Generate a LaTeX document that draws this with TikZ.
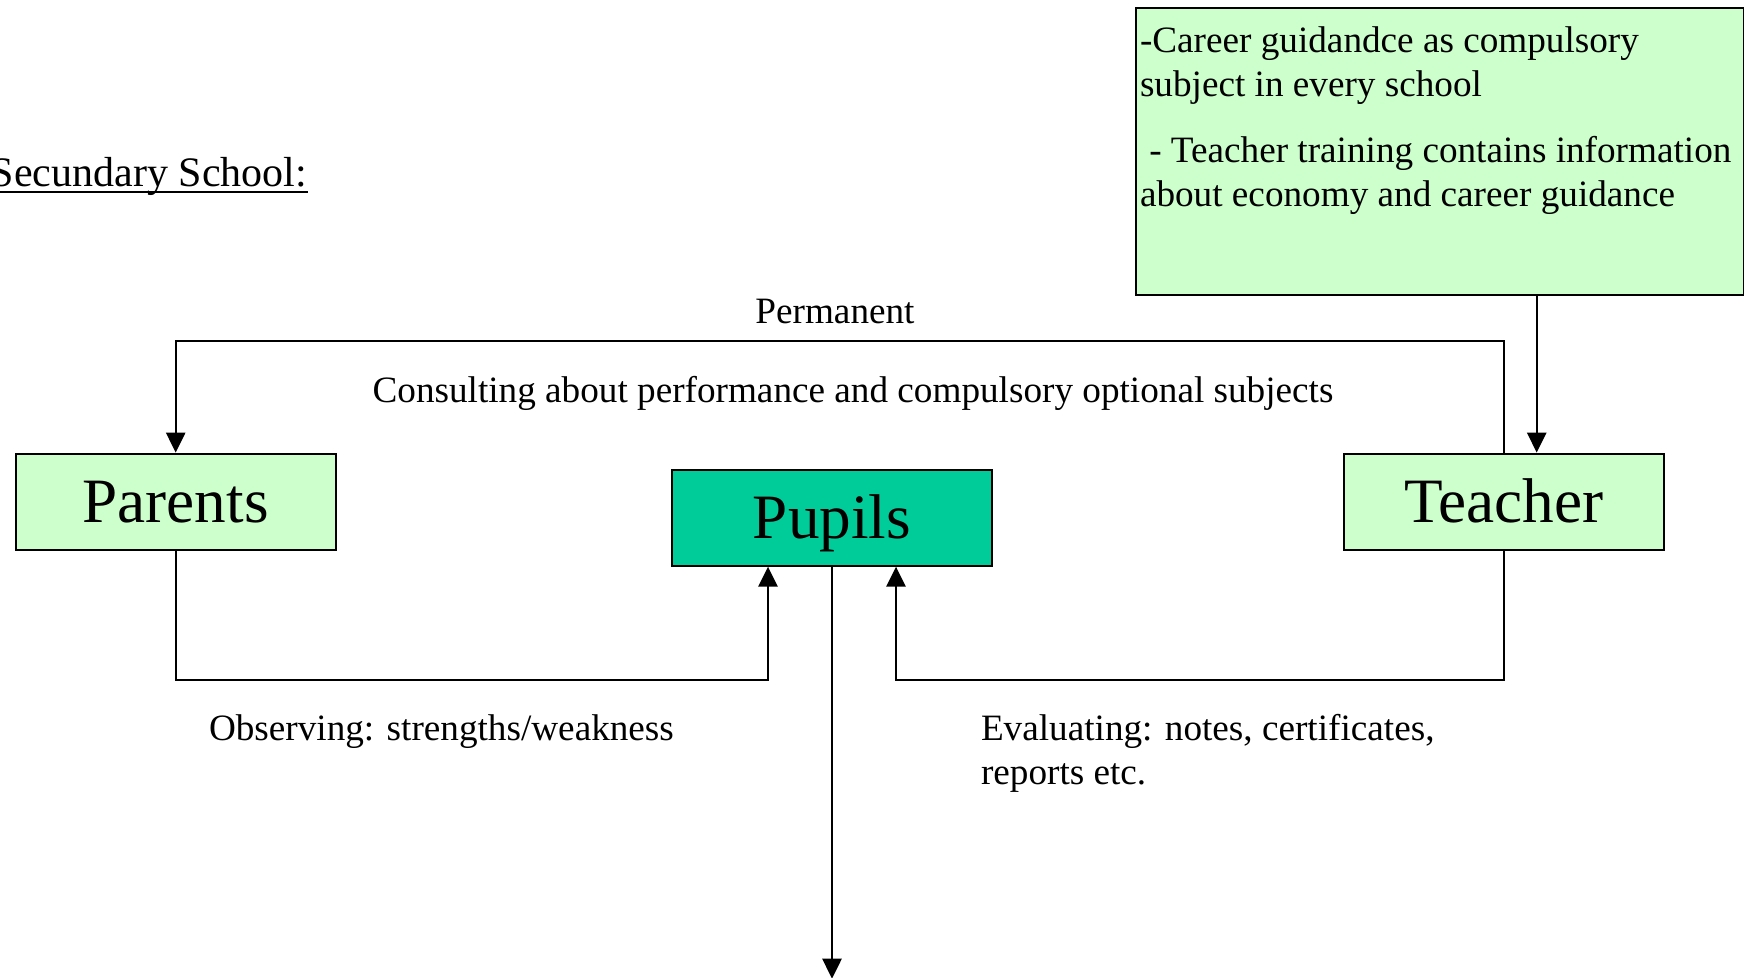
\documentclass[tikz,border=0pt]{standalone}
\usepackage{fontspec}
\setmainfont{Liberation Serif}
\usetikzlibrary{arrows.meta,positioning}

\definecolor{boxgreen}{RGB}{204,255,204}
\definecolor{pupilgreen}{RGB}{0,204,153}

\begin{document}
\begin{tikzpicture}[x=0.5pt,y=-0.5pt,>={Triangle[length=10pt,width=9.6pt]},line width=1pt]
  \tikzstyle{box}=[rectangle,draw=black,fill=boxgreen,minimum width=160pt,
  		   minimum height=48pt,inner sep=0pt,text height=20.9pt,text depth=0pt,
  		   font=\fontsize{31.6pt}{38pt}\selectfont]
  \tikzstyle{pupil box}=[box,fill=pupilgreen]
  \tikzstyle{note}=[inner sep=0pt,font=\fontsize{18.6pt}{21.7pt}\selectfont]

  \useasboundingbox (0,0) rectangle (1744,978);

  \node [note,anchor=base east,font=\fontsize{21pt}{25pt}\selectfont] (title) at (308,187) {Secundary School:};
  \draw ([yshift=-2.5pt]title.base west) -- ([yshift=-2.5pt]title.base east);

  \node [box] (parents) at (175.7,501.6) {Parents};
  \node [pupil box] (pupils) at (832,517.7) {Pupils};
  \node [box] (teacher) at (1503.7,501.6) {Teacher};
  \node [box,anchor=north west,minimum width=304pt,minimum height=143.5pt,
         inner xsep=2pt,text height=,text depth=,font=\fontsize{18.6pt}{21.7pt}\selectfont] (guide) at (1135,7)
    {\parbox[c][143.5pt][t]{300pt}{\raggedright\rule{0pt}{22.5pt}-Career guidandce as compulsory\\
      subject in every school\\[11.6pt]
      \hspace*{0.25em}- Teacher training contains information\\
      about economy and career guidance}};

  \node [note,anchor=base] (permanent) at (835,324) {Permanent};
  \node [note,anchor=base] (consulting) at (853,402)
    {Consulting about performance and compulsory optional subjects};
  \node [note,anchor=base west] (observing) at (208,740) {Observing: strengths/weakness};
  \node [note,anchor=north west,align=left] (evaluating) at (980,709.6)
    {\strut Evaluating: notes, certificates,\\\strut reports etc.};

  \draw [->] (teacher.north) -- ++(0,-112) -| (parents.north);
  \coordinate (guide tip) at ([xshift=16.5pt]teacher.north);
  \draw [->] (guide.south -| guide tip) -- (guide tip);
  \draw [->] (parents.south) -- ++(0,129) -| ([xshift=-32pt]pupils.south);
  \draw [->] (teacher.south) -- ++(0,129) -| ([xshift=32pt]pupils.south);
  \draw [->] (pupils.south) -- ++(0,412);
\end{tikzpicture}
\end{document}
